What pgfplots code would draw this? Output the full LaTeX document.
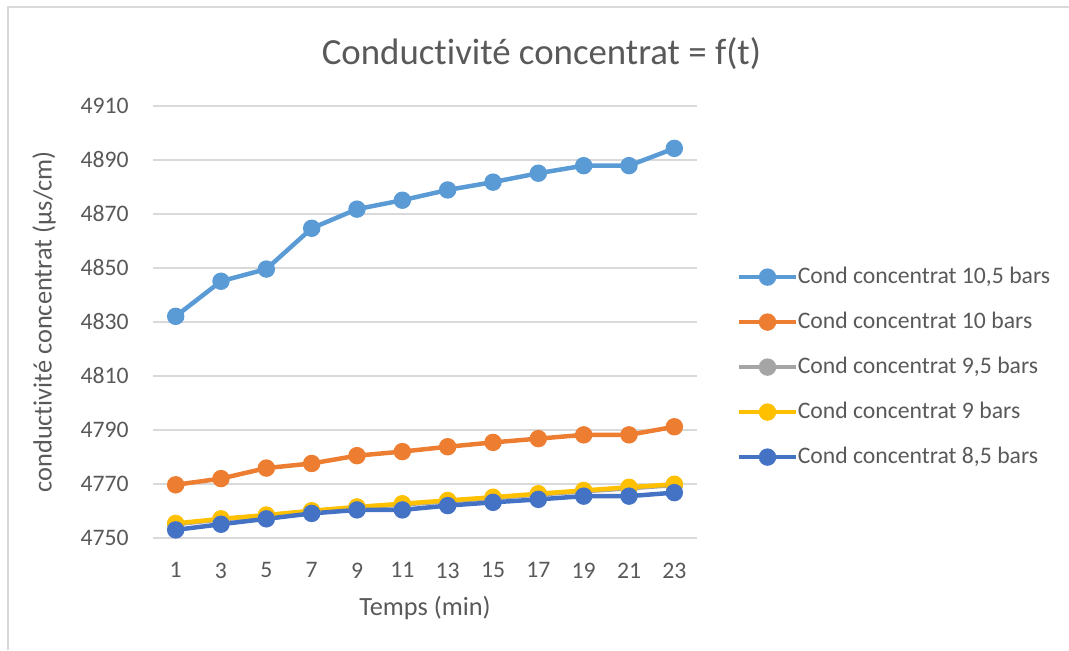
\documentclass[border=0pt]{standalone}
\usepackage{fontspec}
\setmainfont{Carlito}[Ligatures={NoCommon}]
\usepackage{pgfplots}
\pgfplotsset{compat=1.18}
\definecolor{cA}{HTML}{5B9BD5}
\definecolor{cB}{HTML}{ED7D31}
\definecolor{cC}{HTML}{A5A5A5}
\definecolor{cD}{HTML}{FFC000}
\definecolor{cE}{HTML}{4472C4}
\definecolor{txt}{HTML}{595959}
\definecolor{gridc}{HTML}{D9D9D9}
\begin{document}
\begin{tikzpicture}
\path[use as bounding box] (0,0) rectangle (406.22pt,-247pt);
\draw[gridc,line width=0.5pt] (3.04pt,-247pt) -- (3.04pt,-2.66pt) -- (406.22pt,-2.66pt);
\begin{axis}[
  at={(58.14pt,-204.33pt)}, anchor=south west,
  scale only axis, width=206.72pt, height=164.16pt,
  xmin=0, xmax=24, ymin=4750, ymax=4910,
  xtick={1,3,...,23}, ytick={4750,4770,...,4910},
  /pgf/number format/1000 sep={},
  /pgf/number format/assume math mode=true,
  axis line style={draw=none}, major tick length=0pt,
  xmajorgrids=false, ymajorgrids=true, major grid style={gridc,line width=0.75pt},
  every tick label/.append style={font=\fontsize{9}{11}\selectfont, text=txt},
  yticklabel style={anchor=east, inner sep=0pt, xshift=-9.1pt},
  xticklabel style={anchor=north, inner sep=0pt, yshift=-9.3pt},
  title={Conductivité concentrat = f(t)},
  title style={font=\fontsize{14}{17}\selectfont, text=txt, at={(axis description cs:0.714,1.085)}, anchor=center},
  xlabel={Temps (min)},
  xlabel style={font=\fontsize{10}{12}\selectfont, text=txt, at={(axis description cs:0.5,-0.163)}, anchor=center},
  ylabel={conductivité concentrat (µs/cm)},
  ylabel style={font=\fontsize{10}{12}\selectfont, text=txt, at={(axis description cs:-0.2,0.5)}, anchor=center, rotate=0},
  legend style={at={(axis description cs:1.073,0.395)}, anchor=west, draw=none, fill=none, inner sep=0pt,
    font=\fontsize{9}{11}\selectfont, text=txt, row sep=8.6pt,
    nodes={inner sep=0pt, text height=6.5pt, text depth=2pt},
    /tikz/every even column/.append style={column sep=1.1pt}},
  legend cell align=left,
  legend image code/.code={\draw[mark repeat=2,mark phase=2,#1] plot coordinates {(0pt,0pt) (10.65pt,0pt) (21.3pt,0pt)};},
  every axis plot/.append style={line width=1.7pt, mark=*, mark size=2.45pt, mark options={solid}},
]
\addplot[cA, mark options={fill=cA, draw=cA}] coordinates {(1,4832) (3,4845) (5,4849.5) (7,4864.6) (9,4871.7) (11,4875) (13,4878.8) (15,4881.7) (17,4885) (19,4887.8) (21,4887.8) (23,4894.2)};
\addlegendentry{Cond concentrat 10,5 bars}
\addplot[cB, mark options={fill=cB, draw=cB}] coordinates {(1,4769.6) (3,4771.9) (5,4775.8) (7,4777.5) (9,4780.4) (11,4781.9) (13,4783.7) (15,4785.3) (17,4786.7) (19,4788.1) (21,4788.1) (23,4791.1)};
\addlegendentry{Cond concentrat 10 bars}
\addplot[cC, mark options={fill=cC, draw=cC}] coordinates {(1,4755) (3,4756.8) (5,4758.2) (7,4759.8) (9,4761.2) (11,4762.3) (13,4763.5) (15,4764.7) (17,4766) (19,4767.2) (21,4768.3) (23,4769.5)};
\addlegendentry{Cond concentrat 9,5 bars}
\addplot[cD, mark options={fill=cD, draw=cD}] coordinates {(1,4755.3) (3,4757) (5,4758.4) (7,4760) (9,4761.4) (11,4762.6) (13,4763.8) (15,4765) (17,4766.3) (19,4767.5) (21,4768.7) (23,4769.8)};
\addlegendentry{Cond concentrat 9 bars}
\addplot[cE, mark options={fill=cE, draw=cE}] coordinates {(1,4752.9) (3,4755) (5,4757) (7,4759) (9,4760.3) (11,4760.3) (13,4761.9) (15,4763.1) (17,4764.2) (19,4765.4) (21,4765.4) (23,4766.7)};
\addlegendentry{Cond concentrat 8,5 bars}
\end{axis}
\end{tikzpicture}
\end{document}
